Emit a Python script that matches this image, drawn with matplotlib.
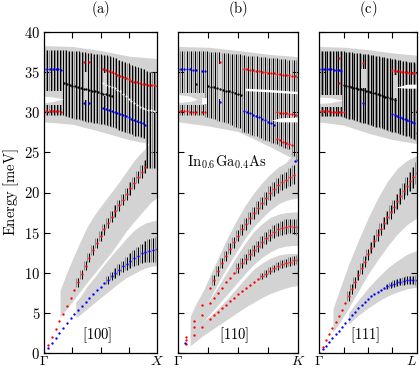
import numpy as np
import matplotlib
matplotlib.use("Agg")
import matplotlib.pyplot as plt

plt.rcParams['mathtext.fontset'] = 'cm'
plt.rcParams['font.family'] = ['DejaVu Serif']

RED, BLUE, BAND, BARG = '#ff0000', '#0000ff', '#d3d3d3', '#8c8c8c'

# ---------------- panel (a) [100] ----------------
A_LA_X = np.arange(28) / 30
A_LA = [0, 1.0, 2.0, 3.0, 3.95, 4.9, 5.8, 6.8, 7.8, 8.8, 9.8, 10.9, 11.9, 12.8, 13.7,
        14.6, 15.4, 16.2, 17.0, 17.7, 18.4, 19.1, 19.8, 20.5, 21.2, 21.9, 22.6, 23.2]
A_LA_ERR = [0.55, 0.55, 0.6, 0.6, 0.6, 0.6, 0.65, 0.65, 0.65, 0.65, 0.7, 0.7, 0.7, 0.7,
            0.75, 0.75, 0.75, 0.8, 0.8]          # bars from index 9
A_TA_X = np.arange(31) / 30
A_TA = [0, 0.62, 1.25, 1.87, 2.5, 3.1, 3.7, 4.3, 4.85, 5.35, 5.85, 6.35, 6.85, 7.3, 7.8,
        8.25, 8.7, 9.1, 9.6, 10.0, 10.4, 10.8, 11.15, 11.5, 11.8, 12.1, 12.4, 12.6, 12.75,
        12.85, 12.9]
A_TA_ERR = [0.5, 0.55, 0.6, 0.65, 0.7, 0.8, 0.9, 1.0, 1.1, 1.2, 1.3, 1.4, 1.5, 1.55]  # from 17

A_LAB_X = [0.14, 0.2, 0.26, 0.32, 0.38, 0.45, 0.52, 0.6, 0.67, 0.73, 0.8, 0.85, 0.9, 0.95, 1.0]
A_LAB_HI = [7.8, 10.0, 12.0, 13.9, 15.7, 17.3, 18.6, 20.1, 21.4, 22.6, 24.0, 24.8, 25.5, 26.4, 26.6]
A_LAB_LO = [4.5, 5.5, 6.6, 7.7, 8.8, 10.0, 11.2, 12.6, 14.0, 15.2, 16.4, 17.2, 18.0, 18.8, 19.3]
A_TAB_X = [0.28, 0.32, 0.38, 0.45, 0.52, 0.6, 0.67, 0.73, 0.8, 0.85, 0.9, 0.95, 1.0]
A_TAB_HI = [6.4, 7.0, 8.3, 9.5, 10.8, 12.2, 13.3, 14.3, 15.3, 15.8, 16.2, 16.4, 16.6]
A_TAB_LO = [4.4, 4.8, 5.5, 6.3, 7.1, 8.0, 8.8, 9.4, 9.9, 10.3, 10.6, 10.8, 10.9]

A_OPT_BX = [0, 0.25, 0.5, 0.75, 1.0]
A_OPT_BHI = [38.3, 38.2, 37.7, 37.0, 36.7]
A_OPT_BLO = [28.8, 28.5, 27.6, 26.6, 25.9]
A_BAR_X = np.arange(37) / 36
A_BAR_TOP = [37.7] * 6 + [37.7, 37.7, 37.68, 37.65, 37.62, 37.58, 37.53, 37.47, 37.4, 37.35,
                          37.3, 37.25, 37.2, 37.15, 37.1, 37.0, 36.85, 36.7, 36.55, 36.4, 36.25,
                          36.1, 35.95, 35.8, 35.65, 35.5, 35.35, 35.1, 35.0, 35.0, 35.0]
A_BAR_BOT = [29.6] * 6 + [29.6, 29.5, 29.4, 29.3, 29.2, 29.1, 29.0, 28.9, 28.8, 28.75, 28.7,
                          28.6, 28.55, 28.5, 28.4, 28.3, 28.15, 28.0, 27.85, 27.7, 27.55, 27.4,
                          27.25, 27.1, 27.0, 26.9, 26.8, 23.0, 23.0, 23.0, 23.0]
A_CUTS = [  # (color, x, lo, hi)
    (BAND, [0, 0.158], [30.9, 30.9], [32.6, 32.6]),
    ('white', [0, 0.08, 0.17], [31.2, 31.35, 31.65], [32.0, 31.9, 31.65]),
    (BAND, [0.35, 0.39], [31.5, 31.5], [35.0, 35.0]),
    (BAND, [0.52, 0.555], [32.0, 32.0], [34.9, 34.9]),
]
OX = np.arange(41) / 40
A_DOTS = [  # (color, index list, energies)
    (BLUE, range(0, 7), [35.45, 35.44, 35.42, 35.4, 35.37, 35.33, 35.28]),
    (RED, range(0, 7), [30.2, 30.18, 30.16, 30.14, 30.12, 30.1, 30.08]),
    (RED, [14, 16], [36.3, 36.2]),
    (BLUE, [14, 16], [31.2, 31.15]),
    ('k', range(7, 25), [33.6, 33.5, 33.42, 33.33, 33.25, 33.15, 33.05, 32.95, 32.88, 32.8,
                         32.7, 32.6, 32.5, 32.42, 32.33, 32.25, 32.15, 32.05]),
    (RED, range(21, 41), [35.4, 35.27, 35.13, 35.0, 34.85, 34.7, 34.55, 34.4, 34.25, 34.1,
                          33.95, 33.8, 33.72, 33.64, 33.57, 33.5, 33.45, 33.4, 33.35, 33.3]),
    (BLUE, range(21, 37), [30.5, 30.4, 30.3, 30.18, 30.05, 29.92, 29.8, 29.65, 29.5, 29.35,
                           29.2, 29.05, 28.9, 28.75, 28.6, 28.45]),
    ('white', range(21, 41), [33.6, 33.45, 33.3, 33.15, 33.0, 32.8, 32.6, 32.3, 32.0, 31.7,
                              31.4, 31.1, 30.85, 30.65, 30.5, 30.4, 30.3, 30.25, 30.2, 30.2]),
]

# ---------------- panel (b) [110] ----------------
B_AC_X = np.array([0, 2, 4, 6, 8] + list(range(9, 31))) / 30
B_TOP = [0, 2.0, 4.0, 6.0, 8.1, 9.1, 10.2, 11.2, 12.1, 13.0, 13.8, 14.6, 15.4, 16.1, 16.8,
         17.5, 18.1, 18.7, 19.3, 19.9, 20.4, 20.9, 21.3, 21.6, 21.9, 22.2]
B_MID = [0, 1.6, 3.2, 4.7, 6.2, 6.8, 7.5, 8.1, 8.8, 9.4, 10.0, 10.6, 11.2, 11.7, 12.3, 12.8,
         13.3, 13.8, 14.3, 14.7, 15.1, 15.4, 15.6, 15.75, 15.8, 15.75, 15.7]
B_BOT = [0, 1.1, 2.2, 3.2, 4.2, 4.7, 5.1, 5.6, 6.0, 6.5, 6.9, 7.3, 7.7, 8.1, 8.5, 8.9, 9.25,
         9.6, 9.9, 10.25, 10.55, 10.8, 11.05, 11.25, 11.4, 11.55, 11.65]
B_TOP_ERR = [0.6, 0.6, 0.65, 0.65, 0.7, 0.7, 0.7, 0.7, 0.75, 0.75, 0.75, 0.8, 0.8, 0.8, 0.85,
             0.85, 0.9, 0.95, 1.0, 1.1, 1.2]          # from index 5
B_MID_ERR = [0.6, 0.6, 0.65, 0.65, 0.7, 0.7, 0.75, 0.75, 0.8, 0.8, 0.85, 0.85, 0.9, 0.9,
             0.95, 0.95]                               # from index 11
B_BOT_ERR = [0.4, 0.4, 0.45, 0.45, 0.5, 0.5, 0.5, 0.55, 0.55, 0.55]  # from index 17

B_BX = [0.1, 0.15, 0.21, 0.28, 0.35, 0.42, 0.49, 0.56, 0.63, 0.7, 0.77, 0.84, 0.9, 0.95, 1.0]
B_TOPB_HI = [4.6, 6.2, 7.8, 10.1, 12.4, 14.6, 16.6, 18.4, 19.9, 21.2, 22.3, 23.2, 23.7, 24.6, 25.2]
B_TOPB_LO = [2.2, 3.5, 5.2, 7.2, 9.2, 11.0, 12.7, 14.3, 15.7, 16.8, 17.8, 18.6, 19.0, 19.2, 19.3]
B_MIDB_HI = [3.0, 4.2, 5.6, 7.0, 8.7, 10.4, 12.1, 13.7, 15.1, 16.1, 16.9, 17.3, 17.5, 17.55, 17.6]
B_MIDB_LO = [1.8, 2.8, 3.9, 5.1, 6.3, 7.5, 8.7, 9.9, 11.0, 11.9, 12.6, 13.1, 13.3, 13.4, 13.4]
B_BOTB_HI = [2.2, 3.0, 3.9, 4.8, 5.8, 6.9, 8.1, 9.3, 10.4, 11.2, 11.8, 12.2, 12.35, 12.4, 12.4]
B_BOTB_LO = [0.9, 1.5, 2.2, 2.9, 3.6, 4.3, 5.0, 5.7, 6.3, 6.9, 7.4, 7.8, 8.1, 8.3, 8.4]

B_OPT_BX = [0, 0.25, 0.5, 0.77, 0.94, 1.0]
B_OPT_BHI = [38.2, 38.1, 37.7, 37.2, 37.0, 36.9]
B_OPT_BLO = [28.8, 28.3, 27.6, 25.7, 24.4, 24.0]
B_BAR_X = np.arange(30) / 29
B_BAR_TOP = [37.6] * 7 + [37.6, 37.55, 37.5, 37.45, 37.4, 37.35, 37.3, 37.25, 37.2,
                          37.1, 37.05, 37.0, 36.95, 36.9, 36.85, 36.8, 36.75, 36.7, 36.65,
                          36.6, 36.55, 36.5, 36.45]
B_BAR_BOT = [29.6] * 7 + [29.4, 29.25, 29.1, 28.95, 28.8, 28.6, 28.4, 28.2, 28.0,
                          27.6, 27.4, 27.2, 27.0, 26.8, 26.6, 26.4, 26.2,
                          26.0, 25.8, 25.6, 25.4, 24.6, 23.8]
B_CUTS = [
    (BAND, [0, 0.224], [30.9, 30.9], [32.4, 32.4]),
    ('white', [0, 0.1, 0.16], [31.2, 31.35, 31.6], [32.2, 32.0, 31.6]),
    ('white', [0.195, 0.24], [31.0, 31.0], [31.8, 31.8]),
    (BAND, [0.33, 0.365], [31.6, 31.6], [36.0, 36.0]),
    ('white', [0.56, 0.75, 1.0], [32.7, 32.55, 32.3], [33.0, 32.85, 32.6]),
    ('white', [0.78, 0.85, 1.0], [29.0, 28.8, 28.8], [29.0, 29.3, 29.4]),
]
B_DOTS = [
    (BLUE, range(0, 7), [35.45, 35.43, 35.4, 35.37, 35.34, 35.3, 35.27]),
    (BLUE, [8, 9], [35.2, 35.15]),
    (RED, range(0, 7), [30.15, 30.13, 30.12, 30.1, 30.08, 30.06, 30.05]),
    (RED, [8, 9], [30.0, 29.98]),
    (RED, [14], [36.3]),
    (BLUE, [14], [31.3]),
    ('k', [6] + list(range(10, 22)), [33.5, 33.3, 33.2, 33.1, 33.0, 32.9, 32.8, 32.7, 32.6,
                                      32.5, 32.4, 32.3, 32.2]),
    (RED, range(22, 41), [35.4, 35.35, 35.3, 35.24, 35.18, 35.12, 35.06, 35.0, 34.95, 34.9,
                          34.85, 34.8, 34.75, 34.7, 34.64, 34.58, 34.52, 34.46, 34.4]),
    (BLUE, range(22, 33), [30.1, 29.98, 29.85, 29.7, 29.55, 29.4, 29.2, 29.0, 28.8, 28.6, 28.4]),
    (RED, range(33, 41), [30.0, 29.95, 29.9, 29.85, 29.78, 29.72, 29.66, 29.6]),
    (RED, range(33, 39), [26.7, 26.5, 26.35, 26.2, 26.05, 25.9]),
    (BLUE, [39, 40], [23.95, 24.05]),
]

# ---------------- panel (c) [111] ----------------
C_AC_X = np.arange(31) / 30
C_LA = [0, 0.8, 1.6, 2.4, 3.1, 3.85, 4.6, 5.4, 6.25, 7.1, 7.95, 8.8, 9.7, 10.55, 11.4, 12.3,
        13.1, 13.9, 14.7, 15.45, 16.2, 16.9, 17.6, 18.25, 18.9, 19.55, 20.2, 20.85, 21.4,
        21.9, 22.4]
C_TA = [0, 0.47, 0.93, 1.4, 1.86, 2.32, 2.78, 3.24, 3.7, 4.2, 4.7, 5.1, 5.55, 5.95, 6.35,
        6.75, 7.1, 7.4, 7.65, 7.9, 8.1, 8.3, 8.5, 8.65, 8.8, 8.9, 9.0, 9.05, 9.1, 9.1, 9.1]
C_LA_ERR = [0.6, 0.6, 0.65, 0.65, 0.65, 0.7, 0.7, 0.7, 0.75, 0.75, 0.75, 0.8, 0.8, 0.85,
            0.85, 0.9, 0.95, 1.0, 1.1, 1.2, 1.3, 1.35]   # from index 9
C_TA_ERR = [0.35, 0.4, 0.4, 0.45, 0.45, 0.5, 0.5, 0.55, 0.55, 0.6]  # from index 21

C_LAB_X = [0.14, 0.2, 0.3, 0.4, 0.5, 0.6, 0.7, 0.8, 0.9, 1.0]
C_LAB_HI = [5.5, 7.6, 11.0, 14.0, 16.8, 19.3, 21.4, 23.0, 24.0, 24.6]
C_LAB_LO = [2.6, 3.6, 5.6, 7.7, 9.8, 11.6, 13.3, 14.8, 16.0, 16.8]
C_TAB_X = [0.3, 0.4, 0.5, 0.6, 0.7, 0.8, 0.9, 1.0]
C_TAB_HI = [5.0, 6.6, 8.1, 9.4, 10.6, 11.5, 12.3, 12.8]
C_TAB_LO = [3.6, 4.7, 5.6, 6.4, 7.1, 7.6, 8.0, 8.2]

C_OPT_BX = [0, 0.25, 0.5, 0.75, 1.0]
C_OPT_BHI = [38.2, 38.1, 37.8, 37.4, 37.1]
C_OPT_BLO = [28.8, 28.4, 27.4, 26.6, 26.1]
C_BAR_X = np.arange(37) / 36
C_BAR_TOP = [37.6] * 9 + [37.6, 37.56, 37.52, 37.48, 37.44, 37.4, 37.35, 37.3, 37.25, 37.2,
                          37.15, 37.1, 37.04, 36.98, 36.92, 36.86, 36.8, 36.74, 36.68, 36.62,
                          36.56, 36.5, 36.44, 36.38, 36.32, 36.26, 36.2, 36.1]
C_BAR_BOT = [29.5] * 9 + [29.4, 29.3, 29.2, 29.1, 29.0, 28.9, 28.8, 28.7, 28.6, 28.5, 28.4,
                          28.3, 28.2, 28.1, 28.0, 27.9, 27.8, 27.7, 27.6, 27.5, 27.4, 27.3,
                          27.2, 27.1, 27.0, 26.85, 26.7, 26.5]
C_CUTS = [
    (BAND, [0, 0.236], [30.7, 30.7], [32.1, 32.1]),
    ('white', [0, 0.12, 0.24], [31.1, 31.2, 31.5], [31.9, 31.8, 31.5]),
    (BAND, [0.43, 0.48], [33.0, 33.0], [35.4, 35.4]),
    (BAND, [0.76, 0.8], [31.8, 31.8], [34.6, 34.6]),
    ('white', [0.78, 0.9, 1.0], [33.1, 33.0, 33.0], [33.1, 33.5, 33.5]),
]
C_DOTS = [
    (BLUE, range(0, 10), [35.45, 35.44, 35.42, 35.4, 35.38, 35.35, 35.32, 35.28, 35.24, 35.2]),
    (RED, range(0, 11), [30.15, 30.14, 30.13, 30.12, 30.1, 30.08, 30.06, 30.04, 30.02, 30.0, 29.98]),
    (RED, [8, 8, 18], [36.8, 33.6, 36.1]),
    (BLUE, [18], [31.2]),
    ('k', range(10, 32), [33.4, 33.3, 33.22, 33.15, 33.07, 33.0, 32.92, 32.84, 32.76, 32.68,
                          32.6, 32.5, 32.42, 32.34, 32.25, 32.15, 32.05, 31.95, 31.85, 31.75,
                          31.65, 31.55]),
    (RED, range(30, 41), [35.25, 35.2, 35.15, 35.1, 35.06, 35.02, 34.98, 34.95, 34.93, 34.91, 34.9]),
    (BLUE, range(30, 40), [29.75, 29.65, 29.55, 29.45, 29.3, 29.15, 29.0, 28.9, 28.8, 28.7]),
    (RED, [40, 40], [30.2, 27.4]),
]

YTICKS = [0, 5, 10, 15, 20, 25, 30, 35, 40]
PANELS = ['(a)', '(b)', '(c)']
ENDS = ['X', 'K', 'L']
DIRS = ['[100]', '[110]', '[111]']

W, H = 420, 369
fig = plt.figure(figsize=(W / 100, H / 100), dpi=100)
boxes = [(44.3, 112.4), (178.3, 119.4), (319.3, 97.4)]
axes = []
for (x0, w) in boxes:
    axes.append(fig.add_axes([x0 / W, 16 / H, w / W, 321 / H]))


def band(ax, x, lo, hi, color=BAND, z=1):
    ax.fill_between(x, lo, hi, color=color, lw=0, zorder=z)


def bars(ax, x, lo, hi, dx, z=2):
    x = np.asarray(x)
    ax.vlines(x - dx / 2, lo, hi, colors=BARG, lw=0.75, zorder=z)
    ax.vlines(x, lo, hi, colors='k', lw=0.75, zorder=z + 0.1)


def ac_bars(ax, xs, ys, start, err, dx):
    xs = np.asarray(xs)[start:start + len(err)]
    ys = np.asarray(ys)[start:start + len(err)]
    err = np.asarray(err)
    bars(ax, xs, ys - err, ys + err, dx)


def dots(ax, x, y, c, ms=1.7):
    ax.plot(x, y, ls='none', marker='o', ms=ms, mew=0, color=c, zorder=5)


def cuts(ax, lst):
    for c, x, lo, hi in lst:
        ax.fill_between(x, lo, hi, color=c, lw=0, zorder=3)


def odots(ax, lst):
    for c, idx, e in lst:
        dots(ax, OX[list(idx)], e, c, ms=1.5 if c == 'white' else 1.7)


# ---- (a)
ax = axes[0]
band(ax, A_OPT_BX, A_OPT_BLO, A_OPT_BHI)
band(ax, A_LAB_X, A_LAB_LO, A_LAB_HI)
band(ax, A_TAB_X, A_TAB_LO, A_TAB_HI)
bars(ax, A_BAR_X, A_BAR_BOT, A_BAR_TOP, 1 / 36)
ac_bars(ax, A_LA_X, A_LA, 9, A_LA_ERR, 1 / 30)
ac_bars(ax, A_TA_X, A_TA, 17, A_TA_ERR, 1 / 30)
cuts(ax, A_CUTS)
dots(ax, A_LA_X, A_LA, RED)
dots(ax, A_TA_X, A_TA, BLUE)
odots(ax, A_DOTS)

# ---- (b)
ax = axes[1]
band(ax, B_OPT_BX, B_OPT_BLO, B_OPT_BHI)
band(ax, B_BX, B_TOPB_LO, B_TOPB_HI)
band(ax, B_BX, B_MIDB_LO, B_MIDB_HI)
band(ax, B_BX, B_BOTB_LO, B_BOTB_HI)
bars(ax, B_BAR_X, B_BAR_BOT, B_BAR_TOP, 1 / 29)
ac_bars(ax, B_AC_X, B_TOP, 5, B_TOP_ERR, 1 / 30)
ac_bars(ax, B_AC_X, B_MID, 11, B_MID_ERR, 1 / 30)
ac_bars(ax, B_AC_X, B_BOT, 17, B_BOT_ERR, 1 / 30)
cuts(ax, B_CUTS)
dots(ax, B_AC_X[:len(B_TOP)], B_TOP, RED)
dots(ax, B_AC_X, B_MID, RED)
dots(ax, B_AC_X, B_BOT, RED)
dots(ax, [0.06], [1.3], BLUE)
odots(ax, B_DOTS)
ax.text(0.405, 23.8, r'$\mathrm{In_{0.6}Ga_{0.4}As}$', ha='center', va='center',
        fontsize=10.5, zorder=6)

# ---- (c)
ax = axes[2]
band(ax, C_OPT_BX, C_OPT_BLO, C_OPT_BHI)
band(ax, C_LAB_X, C_LAB_LO, C_LAB_HI)
band(ax, C_TAB_X, C_TAB_LO, C_TAB_HI)
bars(ax, C_BAR_X, C_BAR_BOT, C_BAR_TOP, 1 / 36)
ac_bars(ax, C_AC_X, C_LA, 9, C_LA_ERR, 1 / 30)
ac_bars(ax, C_AC_X, C_TA, 21, C_TA_ERR, 1 / 30)
cuts(ax, C_CUTS)
dots(ax, C_AC_X, C_LA, RED)
dots(ax, C_AC_X, C_TA, BLUE)
odots(ax, C_DOTS)

for i, ax in enumerate(axes):
    ax.set_xlim(0, 1)
    ax.set_ylim(0, 40)
    ax.set_yticks(YTICKS)
    ax.set_xticks([0, 1])
    ax.set_xticklabels([r'$\Gamma$', r'$%s$' % ENDS[i]], fontsize=10)
    ax.set_xticks([0.25, 0.5, 0.75], minor=True)
    ax.tick_params(which='both', direction='in', top=True, right=True, length=4, width=0.8,
                   pad=3)
    ax.tick_params(axis='x', which='major', length=0, pad=1)
    if i == 0:
        ax.set_yticklabels([r'$%d$' % v for v in YTICKS], fontsize=10.5)
        ax.set_ylabel(r'$\mathrm{Energy\ [meV]}$', fontsize=10.5, labelpad=2)
    else:
        ax.set_yticklabels([])
    for s in ax.spines.values():
        s.set_linewidth(0.9)
        s.set_zorder(7)
    ax.text(0.47, 2.2, r'$%s$' % DIRS[i], ha='center', va='center', fontsize=10.5, zorder=6)
    x0, w = boxes[i]
    fig.text((x0 + w / 2) / W, 1 - 9 / H, r'$\mathrm{%s}$' % PANELS[i], ha='center',
             va='center', fontsize=10.5)

# keep the L label inside the figure, as in the reference
axes[2].get_xticklabels()[1].set_horizontalalignment('right')
axes[2].get_xticklabels()[1].set_x(1.02)

fig.savefig('out.png', dpi=100)
